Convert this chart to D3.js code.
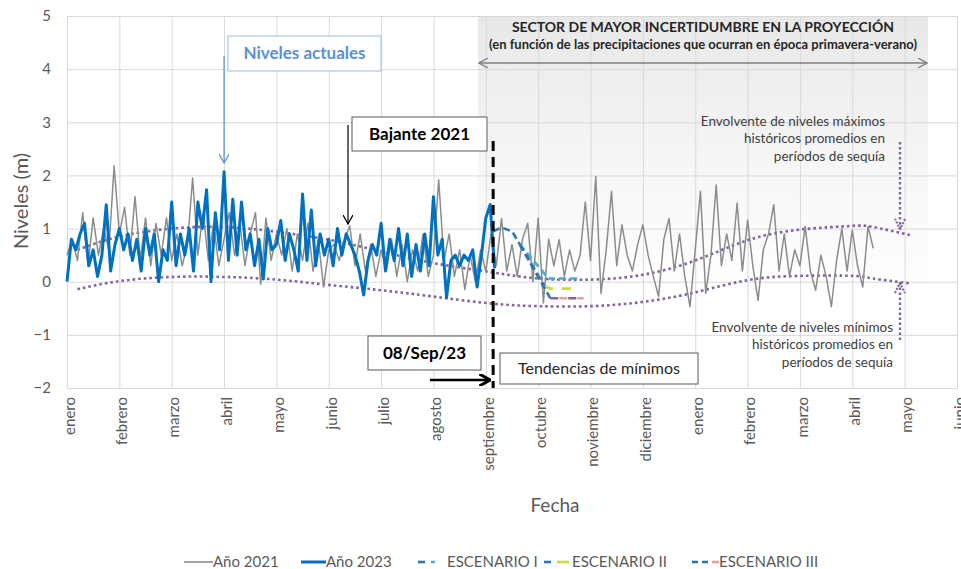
<!DOCTYPE html>
<html>
<head>
<meta charset="utf-8">
<script src="https://cdn.jsdelivr.net/npm/d3@7"></script>
<style>
  body { margin: 0; background: #fff; }
  svg { font-family: Lato, "Open Sans", sans-serif; }
</style>
</head>
<body>
<div id="chart"></div>
<script>
// --- datos ---
var meses = ["enero","febrero","marzo","abril","mayo","junio","julio","agosto","septiembre",
             "octubre","noviembre","diciembre","enero","febrero","marzo","abril","mayo","junio"];
var nivelesTicks = [-2,-1,0,1,2,3,4,5];

// Año 2021, un valor cada 0.1 mes desde enero
var paso2021 = 0.1;
var anio2021 = [
  0.5,0.8,0.4,1.3,0.3,1.2,0.5,1.0,0.6,2.18,
  0.9,1.4,0.5,1.6,0.4,1.2,0.3,1.1,0.5,1.2,
  0.4,0.9,0.3,0.7,1.95,0.5,1.3,0.4,1.1,0.3,
  0.8,1.3,0.5,1.1,0.3,0.9,1.3,-0.05,1.2,0.4,
  0.9,0.5,1.0,0.2,0.9,0.4,1.1,0.2,0.8,-0.1,
  0.6,0.7,0.4,0.8,1.05,0.3,0.9,0.2,0.7,0.1,
  0.6,0.2,0.8,0.1,0.7,0.0,0.6,0.2,0.9,0.1,
  0.5,1.92,0.4,0.9,0.1,0.6,-0.15,0.5,0.0,0.6,
  0.2,0.9,0.3,1.19,0.2,0.7,0.1,0.8,1.1,0.0,
  1.2,-0.4,0.8,0.3,0.79,0.1,0.6,0.2,0.5,1.5,
  0.4,1.98,-0.22,0.6,1.7,0.3,1.07,0.5,0.2,0.7,
  1.07,0.5,0.1,-0.28,0.8,1.19,0.2,0.9,0.1,-0.47,
  0.6,1.7,-0.22,0.5,1.82,0.3,0.9,0.4,1.48,0.2,
  1.16,0.3,-0.35,0.6,0.9,1.45,0.2,0.9,0.1,0.6,
  0.3,1.04,0.2,-0.16,0.5,0.1,-0.47,0.4,1.0,0.2,
  0.97,0.3,-0.1,1.04,0.63
];

// Año 2023, un valor cada 1/12 de mes hasta el 08/Sep
var paso2023 = 1 / 12;
var anio2023 = [
  0.0,0.8,0.6,0.9,1.1,0.3,0.6,0.1,0.5,1.45,0.2,0.7,
  1.0,0.6,0.9,0.4,0.8,0.2,1.0,0.5,0.9,0.0,0.6,0.4,
  1.5,0.3,0.9,0.5,1.0,0.2,1.5,1.0,1.73,0.0,1.3,0.6,
  2.07,0.4,1.55,0.5,1.5,0.6,0.9,0.3,0.8,0.05,1.0,0.6,
  0.7,1.15,0.4,0.9,0.6,0.2,1.65,0.4,1.35,0.3,0.9,0.5,
  0.8,0.3,1.0,0.5,0.9,0.7,0.5,0.2,-0.25,0.4,0.7,0.5,
  1.1,0.2,0.8,0.4,1.0,0.3,0.9,0.1,0.7,0.2,0.9,0.3,
  1.6,0.5,0.8,-0.3,0.4,0.5,0.3,0.5,0.4,0.6,-0.1,0.5,
  1.2,1.45,0.25
];

// envolventes históricas (posición en meses, nivel)
var envMes = [0.2,1,2,3,4,5,6,7,8.1,9,10,11,12,13,14,15,15.4,16.1];
var envMax = [0.6,0.85,1.0,1.03,0.94,0.79,0.57,0.35,0.18,0.06,0.04,0.13,0.4,0.78,0.98,1.05,1.03,0.88];
var envMin = [-0.14,0.01,0.09,0.09,0.04,-0.06,-0.16,-0.28,-0.41,-0.46,-0.46,-0.38,-0.2,0.03,0.11,0.11,0.06,-0.03];

// escenarios
var corte = 8.14;
var escComunMes = [8.14,8.3,8.5,8.65];
var escComunVal = [0.95,1.02,0.95,0.7];
var escIMes = [8.65,9.2,9.75];
var escIVal = [0.7,0.06,0.06];
var escIIMes = [8.65,9.12,9.23,9.8];
var escIIVal = [0.7,-0.08,-0.13,-0.13];
var escIIIMes = [8.65,9.23,9.87];
var escIIIVal = [0.7,-0.31,-0.31];

// --- dibujo ---
var w = 961, h = 569;
var svg = d3.select("#chart").append("svg").attr("width", w).attr("height", h);

var x = d3.scaleLinear().domain([0, 17]).range([67, 957]);
var y = d3.scaleLinear().domain([-2, 5]).range([388, 16]);

var defs = svg.append("defs");
var grad = defs.append("linearGradient").attr("id", "sombra")
  .attr("x1", 0).attr("y1", 0).attr("x2", 0).attr("y2", 1);
grad.append("stop").attr("offset", "0%").attr("stop-color", "#e8e8e8");
grad.append("stop").attr("offset", "40%").attr("stop-color", "#f6f6f6");
grad.append("stop").attr("offset", "75%").attr("stop-color", "#ffffff");

function punta(id, color) {
  defs.append("marker").attr("id", id)
    .attr("viewBox", "0 0 10 10").attr("refX", 9).attr("refY", 5)
    .attr("markerWidth", 10).attr("markerHeight", 10)
    .attr("markerUnits", "userSpaceOnUse").attr("orient", "auto-start-reverse")
    .append("path").attr("d", "M0,0 L9,5 L0,10")
    .attr("fill", "none").attr("stroke", color).attr("stroke-width", 1.3);
}
punta("flechaAzul", "#5b8fd6");
punta("flechaNegra", "#000");
punta("flechaGris", "#7f7f7f");
defs.append("marker").attr("id", "flechaGruesa")
  .attr("viewBox", "0 0 10 10").attr("refX", 8).attr("refY", 5)
  .attr("markerWidth", 12).attr("markerHeight", 12)
  .attr("markerUnits", "userSpaceOnUse").attr("orient", "auto")
  .append("path").attr("d", "M0,0 L9,5 L0,10")
  .attr("fill", "none").attr("stroke", "#000").attr("stroke-width", 2.5);

// sector sombreado
svg.append("rect").attr("x", 478).attr("y", y(5))
  .attr("width", 928 - 478).attr("height", y(-2) - y(5))
  .attr("fill", "url(#sombra)");

// grilla
svg.append("g").attr("transform", "translate(0," + y(-2) + ")")
  .call(d3.axisBottom(x).tickValues(d3.range(18)).tickSize(-(y(-2) - y(5))).tickFormat(""))
  .call(function(g) {
    g.select(".domain").attr("stroke", "#d9d9d9");
    g.selectAll(".tick line").attr("stroke", "#d9d9d9");
  });
svg.append("g").attr("transform", "translate(" + x(0) + ",0)")
  .call(d3.axisLeft(y).tickValues(nivelesTicks).tickFormat(d3.format("d"))
    .tickSize(-(x(17) - x(0))).tickPadding(16))
  .call(function(g) {
    g.select(".domain").attr("stroke", "#d9d9d9");
    g.selectAll(".tick line").attr("stroke", "#d9d9d9");
    g.selectAll("text").attr("fill", "#595959").style("font-size", "15px")
      .style("font-family", "Lato, sans-serif");
  });

// etiquetas de meses
svg.append("g").attr("transform", "translate(0," + y(-2) + ")")
  .call(d3.axisBottom(x).tickValues(d3.range(18)).tickSize(0).tickFormat(function(i) { return meses[i]; }))
  .call(function(g) {
    g.select(".domain").remove();
    g.selectAll("text")
      .attr("transform", "rotate(-90)")
      .attr("x", -9).attr("y", 2).attr("dy", "0.35em")
      .style("text-anchor", "end")
      .style("font-size", "15px").style("font-family", "Lato, sans-serif")
      .attr("fill", "#595959");
  });

// títulos de ejes
svg.append("text").attr("transform", "translate(28,201) rotate(-90)")
  .attr("text-anchor", "middle").attr("fill", "#595959")
  .style("font-size", "20px").text("Niveles (m)");
svg.append("text").attr("x", 555).attr("y", 512)
  .attr("text-anchor", "middle").attr("fill", "#595959")
  .style("font-size", "19px").text("Fecha");

var linea = d3.line().x(function(d) { return x(d[0]); }).y(function(d) { return y(d[1]); });
var curva = d3.line().x(function(d) { return x(d[0]); }).y(function(d) { return y(d[1]); })
  .curve(d3.curveNatural);

function pares(meses, vals) { return meses.map(function(m, i) { return [m, vals[i]]; }); }

// envolventes
[envMax, envMin].forEach(function(env) {
  svg.append("path").datum(pares(envMes, env)).attr("d", curva)
    .attr("fill", "none").attr("stroke", "#8064a2").attr("stroke-width", 2.6)
    .attr("stroke-dasharray", "2.6 3");
});

// series
svg.append("path").datum(anio2021.map(function(v, i) { return [i * paso2021, v]; }))
  .attr("d", linea).attr("fill", "none").attr("stroke", "#8c8c8c")
  .attr("stroke-width", 1.5).attr("stroke-linejoin", "round");
svg.append("path").datum(anio2023.map(function(v, i) { return [i * paso2023, v]; }))
  .attr("d", linea).attr("fill", "none").attr("stroke", "#0070c0")
  .attr("stroke-width", 3).attr("stroke-linejoin", "round");

// escenarios
var azulEsc = "#2e75b6";
function tramo(datos, color, dash, offset) {
  svg.append("path").datum(datos).attr("d", linea).attr("fill", "none")
    .attr("stroke", color).attr("stroke-width", 2.6)
    .attr("stroke-dasharray", dash).attr("stroke-dashoffset", offset || 0);
}
tramo(pares(escComunMes, escComunVal), azulEsc, "7 4");
tramo(pares(escIMes, escIVal), "#4bacc6", "7 4");
tramo(pares(escIIMes.slice(0, 2), escIIVal.slice(0, 2)), azulEsc, "7 4");
tramo(pares(escIIMes.slice(1), escIIVal.slice(1)), "#c4dc3c", "9 9");
tramo(pares(escIIIMes.slice(0, 2), escIIIVal.slice(0, 2)), azulEsc, "7 4");
tramo(pares(escIIIMes.slice(1), escIIIVal.slice(1)), "#8064a2", "8 10");
tramo(pares(escIIIMes.slice(1), escIIIVal.slice(1)), "#e6a0a0", "8 10", 9);

// línea de corte 08/Sep/23
svg.append("line").attr("x1", x(corte)).attr("x2", x(corte))
  .attr("y1", 141).attr("y2", y(-2))
  .attr("stroke", "#000").attr("stroke-width", 3).attr("stroke-dasharray", "10 6");

// sector de incertidumbre
svg.append("text").attr("x", 703).attr("y", 32).attr("text-anchor", "middle")
  .style("font-size", "14px").style("font-weight", "bold").attr("fill", "#262626")
  .text("SECTOR DE MAYOR INCERTIDUMBRE EN LA PROYECCIÓN");
svg.append("text").attr("x", 703).attr("y", 49).attr("text-anchor", "middle")
  .style("font-size", "13px").style("font-weight", "bold").attr("fill", "#262626")
  .text("(en función de las precipitaciones que ocurran  en época primavera-verano)");
svg.append("line").attr("x1", 479).attr("x2", 927).attr("y1", 63).attr("y2", 63)
  .attr("stroke", "#7f7f7f").attr("stroke-width", 1.5)
  .attr("marker-start", "url(#flechaGris)").attr("marker-end", "url(#flechaGris)");

// cajas de texto
function caja(x0, y0, ancho, alto, borde, texto, color, tam, peso) {
  svg.append("rect").attr("x", x0).attr("y", y0).attr("width", ancho).attr("height", alto)
    .attr("fill", "#fff").attr("stroke", borde).attr("stroke-width", 1);
  svg.append("text").attr("x", x0 + ancho / 2).attr("y", y0 + alto / 2).attr("dy", "0.35em")
    .attr("text-anchor", "middle").attr("fill", color)
    .style("font-size", tam + "px").style("font-weight", peso).text(texto);
}

svg.append("line").attr("x1", x(3)).attr("x2", x(3)).attr("y1", 56).attr("y2", 163)
  .attr("stroke", "#5b8fd6").attr("stroke-width", 1.2).attr("marker-end", "url(#flechaAzul)");
caja(228, 36, 153, 35, "#9dbbe6", "Niveles actuales", "#5b8fd6", 17, "bold");

svg.append("line").attr("x1", 348).attr("x2", 348).attr("y1", 125).attr("y2", 224)
  .attr("stroke", "#000").attr("stroke-width", 1.2).attr("marker-end", "url(#flechaNegra)");
caja(352, 117, 135, 34, "#595959", "Bajante 2021", "#000", 17, "bold");

caja(368, 336, 113, 34, "#595959", "08/Sep/23", "#000", 17, "bold");
svg.append("line").attr("x1", 430).attr("x2", 489).attr("y1", 380).attr("y2", 380)
  .attr("stroke", "#000").attr("stroke-width", 2.5).attr("marker-end", "url(#flechaGruesa)");

caja(500, 353, 198, 31, "#595959", "Tendencias de mínimos", "#262626", 16, "normal");

// textos de envolventes
function parrafo(xd, ys, lineas) {
  lineas.forEach(function(t, i) {
    svg.append("text").attr("x", xd).attr("y", ys[i]).attr("text-anchor", "end")
      .attr("fill", "#404040").style("font-size", "13.5px").text(t);
  });
}
parrafo(885, [126, 143, 161], ["Envolvente de niveles máximos", "históricos promedios en", "períodos de sequía"]);
parrafo(893, [332, 349, 367], ["Envolvente de niveles mínimos", "históricos promedios en", "períodos de sequía"]);

// flechas punteadas
defs.append("marker").attr("id", "puntaLila")
  .attr("viewBox", "0 0 12 12").attr("refX", 11).attr("refY", 6)
  .attr("markerWidth", 12).attr("markerHeight", 12)
  .attr("markerUnits", "userSpaceOnUse").attr("orient", "auto")
  .append("path").attr("d", "M1,1 L11,6 L1,11")
  .attr("fill", "none").attr("stroke", "#8064a2").attr("stroke-width", 2.2)
  .attr("stroke-dasharray", "2 1.5");
function flechaPunteada(x0, y0, y1) {
  svg.append("line").attr("x1", x0).attr("x2", x0).attr("y1", y0).attr("y2", y1)
    .attr("stroke", "#8064a2").attr("stroke-width", 2.4).attr("stroke-dasharray", "2.4 2.6")
    .attr("marker-end", "url(#puntaLila)");
}
flechaPunteada(900, 142, 229);
flechaPunteada(900, 340, 283);

// leyenda
var ley = svg.append("g").style("font-size", "15px");
function textoLey(xt, t) {
  ley.append("text").attr("x", xt).attr("y", 567).attr("fill", "#595959").text(t);
}
function trazoLey(x1, x2, color, ancho) {
  ley.append("line").attr("x1", x1).attr("x2", x2).attr("y1", 562).attr("y2", 562)
    .attr("stroke", color).attr("stroke-width", ancho);
}
trazoLey(184, 213, "#8c8c8c", 1.6);
textoLey(213, "Año 2021");
trazoLey(301, 326, "#0070c0", 3);
textoLey(326, "Año 2023");
trazoLey(418, 425, azulEsc, 2.6);
trazoLey(431, 435, "#4bacc6", 2.6);
textoLey(447, "ESCENARIO I");
trazoLey(544, 551, azulEsc, 2.6);
trazoLey(557, 569, "#c4dc3c", 2.6);
textoLey(572, "ESCENARIO II");
trazoLey(692, 698, azulEsc, 2.6);
trazoLey(702, 708, azulEsc, 2.6);
trazoLey(712, 719, "#e6a0a0", 2.6);
textoLey(719, "ESCENARIO III");
</script>
</body>
</html>
